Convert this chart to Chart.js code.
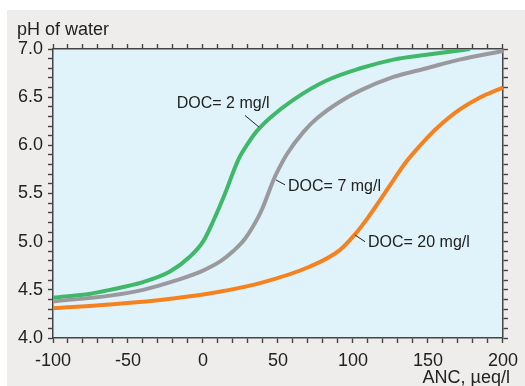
<!DOCTYPE html>
<html>
<head>
<meta charset="utf-8">
<script src="https://cdn.jsdelivr.net/npm/chart.js@4"></script>
<style>
  html, body { margin: 0; padding: 0; background: #fff; }
</style>
</head>
<body>
<canvas id="grafico" width="525" height="386"></canvas>
<script>
// Curvas de pH x ANC para três teores de carbono orgânico dissolvido
const doc2Anc = [-100, -75, -62, -40, -22, -9, 0, 7, 14.7, 23.5, 30, 36, 45, 60, 82, 105, 127, 149, 178];
const doc2Ph  = [4.42, 4.46, 4.50, 4.58, 4.69, 4.84, 5.00, 5.22, 5.50, 5.85, 6.02, 6.15, 6.29, 6.47, 6.67, 6.80, 6.89, 6.94, 7.00];

const doc7Anc = [-100, -62, -40, -17.5, 0, 12, 20, 28, 37, 40, 47, 50, 56, 67, 76, 91, 105, 127, 149, 171, 200];
const doc7Ph  = [4.38, 4.44, 4.50, 4.60, 4.70, 4.80, 4.90, 5.03, 5.26, 5.36, 5.64, 5.74, 5.91, 6.14, 6.28, 6.45, 6.57, 6.71, 6.80, 6.89, 6.98];

const doc20Anc = [-100, -60, -20, 11, 38, 71, 91, 101, 110, 118, 127, 135, 142, 149, 156, 171, 185, 200];
const doc20Ph  = [4.31, 4.35, 4.41, 4.48, 4.57, 4.74, 4.91, 5.07, 5.25, 5.43, 5.64, 5.82, 5.95, 6.07, 6.18, 6.37, 6.50, 6.60];

const serieNomes = ['DOC= 2 mg/l', 'DOC= 7 mg/l', 'DOC= 20 mg/l'];

// rótulos: texto, ponto de início do texto e segmento de chamada (em unidades dos eixos)
const rotulos = [
  { texto: serieNomes[0], x: -17.5, y: 6.43, linha: [28, 6.31, 37.3, 6.19] },
  { texto: serieNomes[1], x: 56.7, y: 5.57, linha: [48.7, 5.64, 54.7, 5.59] },
  { texto: serieNomes[2], x: 110, y: 4.99, linha: [101.3, 5.07, 108, 5.0] }
];

const pontos = (xs, ys) => xs.map((x, i) => ({ x, y: ys[i] }));

const FONTE = '"Liberation Sans", Arial, sans-serif';
const EIXO = '#444444';

const fundo = {
  id: 'fundo',
  beforeDraw(chart) {
    const { ctx, chartArea: a } = chart;
    ctx.save();
    ctx.fillStyle = '#ffffff';
    ctx.fillRect(0, 0, chart.width, chart.height);
    ctx.fillStyle = '#eeedeb';
    ctx.fillRect(7, 10, chart.width - 7, chart.height - 10);
    ctx.fillStyle = '#e1f3fa';
    ctx.fillRect(a.left, a.top, a.right - a.left, a.bottom - a.top);
    ctx.restore();
  }
};

const textos = {
  id: 'textos',
  afterDraw(chart) {
    const { ctx, scales: { x, y } } = chart;
    ctx.save();
    ctx.fillStyle = '#222';
    ctx.font = '18px ' + FONTE;
    ctx.textBaseline = 'alphabetic';
    ctx.textAlign = 'left';
    ctx.fillText('pH of water', 17, 35);
    ctx.textAlign = 'right';
    ctx.fillText('ANC, \u00b5eq/l', 510, 383);

    ctx.font = '16px ' + FONTE;
    ctx.textAlign = 'left';
    ctx.textBaseline = 'middle';
    ctx.strokeStyle = '#222';
    ctx.lineWidth = 1;
    rotulos.forEach(r => {
      ctx.fillText(r.texto, x.getPixelForValue(r.x), y.getPixelForValue(r.y));
      const [x1, y1, x2, y2] = r.linha;
      ctx.beginPath();
      ctx.moveTo(x.getPixelForValue(x1), y.getPixelForValue(y1));
      ctx.lineTo(x.getPixelForValue(x2), y.getPixelForValue(y2));
      ctx.stroke();
    });
    ctx.restore();
  }
};

const grade = { drawOnChartArea: false, drawTicks: true, tickLength: 5, color: EIXO, tickWidth: 1.4 };
const borda = { color: EIXO, width: 1.5 };

// eixos de cima e da direita só repetem as marcas, sem números
const eixoX = (pos, comRotulo, altura) => ({
  type: 'linear', position: pos, min: -100, max: 200,
  grid: grade, border: borda,
  afterFit: s => { s.height = altura; },
  ticks: {
    stepSize: 10, autoSkip: false, maxRotation: 0, padding: 7,
    color: comRotulo ? '#222' : 'rgba(0,0,0,0)', font: { family: FONTE, size: 18 },
    callback: v => (comRotulo && v % 50 === 0 ? String(v) : '')
  }
});

const eixoY = (pos, comRotulo, largura) => ({
  type: 'linear', position: pos, min: 4, max: 7,
  grid: grade, border: borda,
  afterFit: s => { s.width = largura; },
  ticks: {
    stepSize: 0.1, autoSkip: false, padding: 5,
    color: comRotulo ? '#222' : 'rgba(0,0,0,0)', font: { family: FONTE, size: 18 },
    callback: v => (comRotulo && Math.round(v * 10) % 5 === 0 ? v.toFixed(1) : '')
  }
});

const serie = (nome, xs, ys, cor) => ({
  label: nome,
  data: pontos(xs, ys),
  borderColor: cor,
  borderWidth: 4,
  pointRadius: 0,
  fill: false,
  cubicInterpolationMode: 'monotone',
  xAxisID: 'x',
  yAxisID: 'y'
});

new Chart(document.getElementById('grafico'), {
  type: 'line',
  data: {
    datasets: [
      serie(serieNomes[2], doc20Anc, doc20Ph, '#f5821f'),
      serie(serieNomes[1], doc7Anc, doc7Ph, '#9a9a9e'),
      serie(serieNomes[0], doc2Anc, doc2Ph, '#40b86a')
    ]
  },
  options: {
    responsive: false,
    animation: false,
    devicePixelRatio: 1,
    layout: { padding: 0 },
    plugins: { legend: { display: false }, tooltip: { enabled: false } },
    scales: {
      x: eixoX('bottom', true, 48),
      x2: eixoX('top', false, 49),
      y: eixoY('left', true, 53),
      y2: eixoY('right', false, 22)
    }
  },
  plugins: [fundo, textos]
});
</script>
</body>
</html>
